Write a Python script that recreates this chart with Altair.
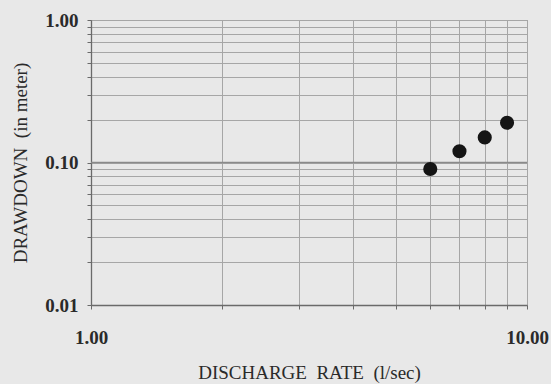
import altair as alt
import pandas as pd

discharge = [6.0, 7.0, 8.0, 9.0]
drawdown = [0.09, 0.12, 0.15, 0.19]

x_grid = [1, 2, 3, 4, 5, 6, 7, 8, 9, 10]
y_grid = [0.01, 0.02, 0.03, 0.04, 0.05, 0.06, 0.07, 0.08, 0.09,
          0.1, 0.2, 0.3, 0.4, 0.5, 0.6, 0.7, 0.8, 0.9, 1.0]
y_major = [0.1]

NB = "\u00a0"
x_title = "DISCHARGE" + NB + NB + "RATE" + NB + NB + "(l/sec)"
y_title = "DRAWDOWN" + NB + NB + "(in" + NB + "meter)"

df = pd.DataFrame({"q": discharge, "s": drawdown})
df_major = pd.DataFrame({"s": y_major})

FONT = "Liberation Serif"

xs = alt.Scale(type="log", domain=[1, 10], nice=False)
ys = alt.Scale(type="log", domain=[0.01, 1], nice=False)

points = alt.Chart(df).mark_circle(size=200, color="#151515", opacity=1).encode(
    x=alt.X("q:Q", scale=xs,
            axis=alt.Axis(values=x_grid, title=x_title,
                          labelExpr="datum.value == 1 ? '1.00' : (datum.value == 10 ? '10.00' : '')",
                          labelPadding=19, titlePadding=16)),
    y=alt.Y("s:Q", scale=ys,
            axis=alt.Axis(values=y_grid, title=y_title,
                          labelExpr="datum.value == 0.01 ? '0.01' : (datum.value == 0.1 ? '0.10' : (datum.value == 1 ? '1.00' : ''))",
                          labelPadding=9, titlePadding=14)),
)

major = alt.Chart(df_major).mark_rule(color="#8a8a8a", strokeWidth=1.4).encode(
    y=alt.Y("s:Q", scale=ys)
)

chart = alt.layer(major, points).properties(
    width=436, height=285,
    autosize=alt.AutoSizeParams(type="none"),
    padding={"left": 91, "top": 20, "right": 24, "bottom": 79},
    background="#e8e8e8",
).configure_view(stroke="#8a8a8a", strokeWidth=1).configure_axis(
    grid=True, gridColor="#a6a6a6", gridWidth=1, gridOpacity=1,
    domainColor="#6a6a6a", domainWidth=1.3,
    tickColor="#6a6a6a", tickSize=4,
    labelFont=FONT, labelFontSize=19, labelFontWeight="bold", labelColor="#2a2a2a",
    titleFont=FONT, titleFontSize=19, titleFontWeight="normal", titleColor="#2a2a2a",
    labelFlush=False, labelOverlap=False,
)

chart.save("out.html", embed_options={"renderer": "svg", "actions": False})
